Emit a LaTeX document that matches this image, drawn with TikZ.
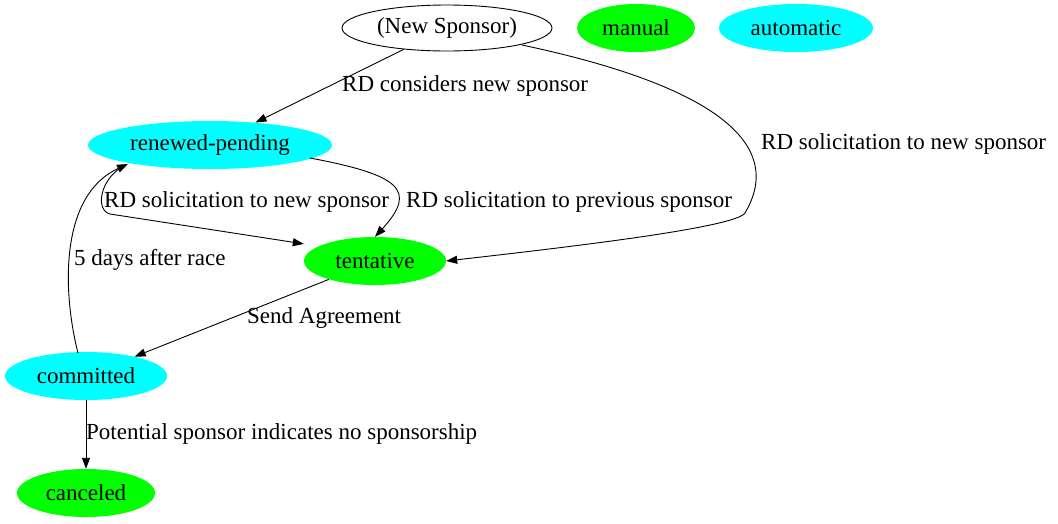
\documentclass[tikz,border=0pt]{standalone}
\usepackage{fontspec}
\setmainfont{Liberation Serif}
\usetikzlibrary{shapes.geometric,arrows.meta}
\begin{document}
\begin{tikzpicture}[x=1pt,y=-1pt,
  st/.style={ellipse,inner sep=0pt,minimum height=48pt,font=\fontsize{23pt}{25pt}\selectfont},
  man/.style={st,fill=green},
  aut/.style={st,fill=cyan},
  lab/.style={anchor=west,inner sep=1pt,font=\fontsize{23pt}{25pt}\selectfont},
  e/.style={-{Triangle[length=11pt,width=8pt]},line width=0.9pt}]
\useasboundingbox (0,0) rectangle (1058,523);
\definecolor{green}{HTML}{00FF00}
\definecolor{cyan}{HTML}{00FFFF}
\node[st,draw,line width=0.9pt,minimum width=210pt,minimum height=46pt] (ns) at (447,28) {(New Sponsor)};
\node[man,minimum width=118pt] (m) at (636,28) {manual};
\node[aut,minimum width=154pt] (a) at (796,28) {automatic};
\node[aut,minimum width=244pt] (rp) at (210,145) {renewed-pending};
\node[man,minimum width=142pt] (t) at (375,261) {tentative};
\node[aut,minimum width=162pt] (c) at (86,376) {committed};
\node[man,minimum width=138pt] (x) at (86,493) {canceled};
\coordinate (nse) at (522,45);
\coordinate (rpl) at (128,164);
\draw[e] (ns) -- (rp);
\node[lab] at (341,86) {RD considers new sponsor};
\draw[e] (nse) .. controls (640,70) and (800,120) .. (745,213) .. controls (735,228) and (560,248) .. (t.east);
\node[lab] at (760,144) {RD solicitation to new sponsor};
\draw[e] (310,158) .. controls (400,175) and (418,190) .. (t.north);
\node[lab] at (405,202) {RD solicitation to previous sponsor};
\draw[e] (122,167) .. controls (100,180) and (95,210) .. (110,214) -- (t.west|-t.north west) ;
\node[lab] at (103,202) {RD solicitation to new sponsor};
\draw[e] (t) -- (c);
\node[lab] at (246,318) {Send Agreement};
\draw[e] (78,353) .. controls (62,290) and (60,195) .. (rpl);
\node[lab] at (73,260) {5 days after race};
\draw[e] (c) -- (x);
\node[lab] at (85,434) {Potential sponsor indicates no sponsorship};
\end{tikzpicture}
\end{document}
